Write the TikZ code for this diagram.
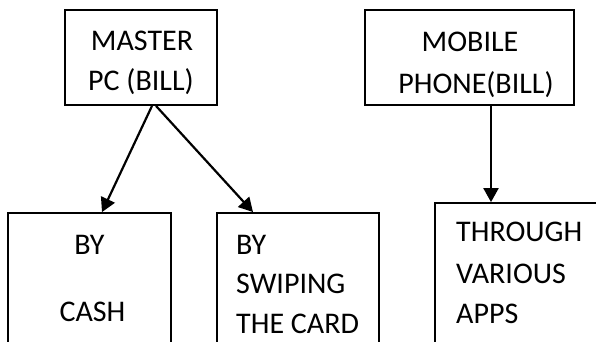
\documentclass[tikz,border=0pt]{standalone}
\usepackage{fontspec}
\setmainfont{Carlito}
\usetikzlibrary{arrows.meta}
\begin{document}
\begin{tikzpicture}[x=1pt,y=-1pt,
  box/.style={draw=black,line width=1.8pt,inner sep=0pt},
  lbl/.style={inner sep=0pt,font=\fontsize{30}{40}\selectfont},
  arr/.style={line width=2.2pt,-{Triangle[length=14pt,width=15pt]}}]
\useasboundingbox (0,0) rectangle (596,342);
\clip (0,0) rectangle (596,342);
\fill[white] (0,0) rectangle (596,342);
% boxes
\node[box,minimum width=152pt,minimum height=95pt] (master) at (141,57.5) {};
\node[box,minimum width=209pt,minimum height=95pt] (mobile) at (469.5,57.5) {};
\node[box,minimum width=163pt,minimum height=150pt] (cash) at (89.5,288) {};
\node[box,minimum width=162pt,minimum height=150pt] (swipe) at (298,288) {};
\node[box,minimum width=180pt,minimum height=160pt] (apps) at (525,283) {};
% texts
\node[lbl,anchor=base] (t1) at (142,51) {MASTER};
\node[lbl,anchor=base] (t2) at (141,91) {PC (BILL)};
\node[lbl,anchor=base] (t3) at (470,51.5) {MOBILE};
\node[lbl,anchor=base] (t4) at (476,94) {PHONE(BILL)};
\node[lbl,anchor=base] (t5) at (89.5,254) {BY};
\node[lbl,anchor=base] (t6) at (92.5,321) {CASH};
\node[lbl,anchor=base west] (t7) at (236,254) {BY};
\node[lbl,anchor=base west] (t8) at (236,293) {SWIPING};
\node[lbl,anchor=base west] (t9) at (236,333) {THE CARD};
\node[lbl,anchor=base west] (t10) at (456,241) {THROUGH};
\node[lbl,anchor=base west] (t11) at (456,283) {VARIOUS};
\node[lbl,anchor=base west] (t12) at (456,323) {APPS};
% arrows
\draw[arr] ([xshift=11pt]master.south) -- ([xshift=12.5pt]cash.north);
\draw[arr] ([xshift=15pt]master.south) -- ([xshift=-45pt]swipe.north);
\draw[arr] ([xshift=21.5pt]mobile.south) -- ([xshift=-34pt]apps.north);
\end{tikzpicture}
\end{document}
